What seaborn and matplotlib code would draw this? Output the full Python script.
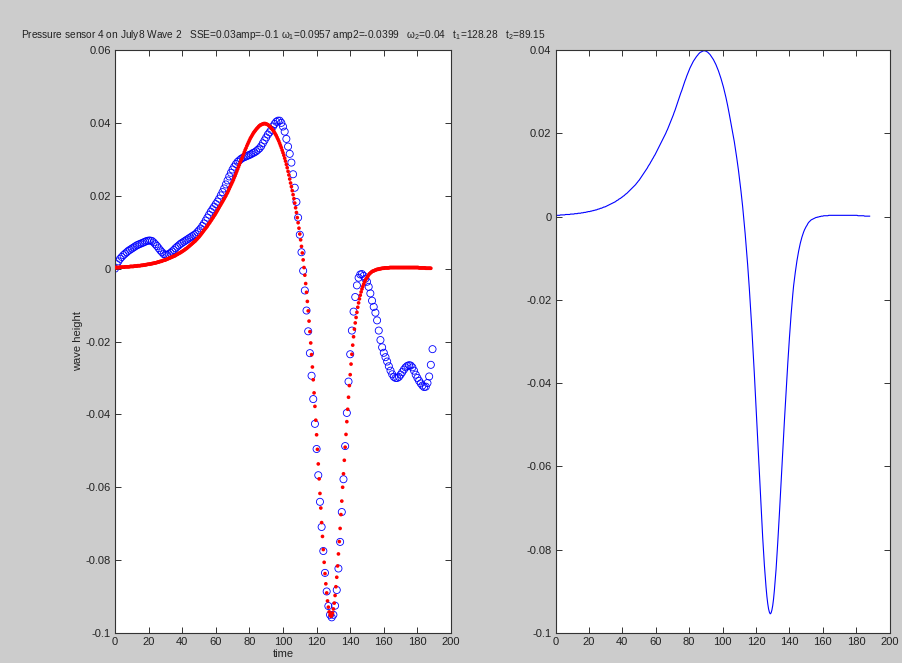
import numpy as np
import matplotlib
matplotlib.use("Agg")
import matplotlib.pyplot as plt
import seaborn as sns
from matplotlib.ticker import FuncFormatter, FixedLocator

plt.rcParams['font.family'] = ['Liberation Sans', 'DejaVu Sans']
plt.rcParams['mathtext.fontset'] = 'custom'
plt.rcParams['mathtext.rm'] = 'Liberation Sans'
plt.rcParams['mathtext.it'] = 'Liberation Sans'

# Measured surface elevation, one sample per time step (t = 0 ... 189)
measured_wave = [
    0.0000, 0.0012, 0.0020, 0.0027, 0.0032, 0.0037, 0.0041, 0.0045, 0.0049, 0.0052,
    0.0055, 0.0058, 0.0061, 0.0064, 0.0066, 0.0068, 0.0070, 0.0072, 0.0074, 0.0076,
    0.0077, 0.0077, 0.0076, 0.0072, 0.0067, 0.0062, 0.0056, 0.0050, 0.0045, 0.0040,
    0.0038, 0.0038, 0.0040, 0.0043, 0.0047, 0.0051, 0.0056, 0.0060, 0.0064, 0.0068,
    0.0071, 0.0074, 0.0077, 0.0080, 0.0083, 0.0086, 0.0089, 0.0092, 0.0095, 0.0100,
    0.0105, 0.0110, 0.0117, 0.0124, 0.0132, 0.0140, 0.0148, 0.0156, 0.0163, 0.0170,
    0.0177, 0.0184, 0.0192, 0.0201, 0.0210, 0.0220, 0.0231, 0.0242, 0.0253, 0.0263,
    0.0272, 0.0280, 0.0287, 0.0293, 0.0297, 0.0301, 0.0304, 0.0306, 0.0308, 0.0310,
    0.0312, 0.0314, 0.0317, 0.0319, 0.0322, 0.0326, 0.0330, 0.0336, 0.0344, 0.0352,
    0.0360, 0.0368, 0.0374, 0.0381, 0.0390, 0.0397, 0.0403, 0.0406, 0.0406, 0.0400,
    0.0390, 0.0376, 0.0356, 0.0335, 0.0315, 0.0291, 0.0259, 0.0222, 0.0183, 0.0140,
    0.0093, 0.0045, -0.0006, -0.0060, -0.0115, -0.0172, -0.0232, -0.0294, -0.0358, -0.0426,
    -0.0495, -0.0567, -0.0640, -0.0709, -0.0775, -0.0835, -0.0886, -0.0926, -0.0950, -0.0957,
    -0.0950, -0.0925, -0.0882, -0.0823, -0.0750, -0.0668, -0.0578, -0.0487, -0.0396, -0.0310,
    -0.0235, -0.0170, -0.0118, -0.0078, -0.0046, -0.0025, -0.0016, -0.0015, -0.0020, -0.0028,
    -0.0036, -0.0050, -0.0068, -0.0088, -0.0105, -0.0121, -0.0142, -0.0170, -0.0196, -0.0216,
    -0.0231, -0.0243, -0.0255, -0.0268, -0.0280, -0.0290, -0.0297, -0.0300, -0.0300, -0.0297,
    -0.0291, -0.0284, -0.0277, -0.0271, -0.0267, -0.0265, -0.0266, -0.0271, -0.0280, -0.0291,
    -0.0300, -0.0308, -0.0315, -0.0321, -0.0325, -0.0324, -0.0314, -0.0296, -0.0264, -0.0221,
]
measured_time = np.arange(len(measured_wave))

# Two-soliton fit, evaluated every half time step (t = 0 ... 188)
fit_wave = [
    0.0003, 0.0003, 0.0003, 0.0003, 0.0003, 0.0003, 0.0004, 0.0004, 0.0004, 0.0004,
    0.0004, 0.0004, 0.0005, 0.0005, 0.0005, 0.0005, 0.0005, 0.0005, 0.0006, 0.0006,
    0.0006, 0.0006, 0.0006, 0.0007, 0.0007, 0.0007, 0.0007, 0.0008, 0.0008, 0.0008,
    0.0008, 0.0009, 0.0009, 0.0009, 0.0010, 0.0010, 0.0010, 0.0011, 0.0011, 0.0012,
    0.0012, 0.0012, 0.0013, 0.0013, 0.0014, 0.0014, 0.0015, 0.0015, 0.0016, 0.0016,
    0.0017, 0.0018, 0.0018, 0.0019, 0.0020, 0.0020, 0.0021, 0.0022, 0.0023, 0.0023,
    0.0024, 0.0025, 0.0026, 0.0027, 0.0028, 0.0029, 0.0030, 0.0031, 0.0032, 0.0033,
    0.0034, 0.0035, 0.0036, 0.0038, 0.0039, 0.0040, 0.0042, 0.0043, 0.0044, 0.0046,
    0.0047, 0.0049, 0.0050, 0.0052, 0.0054, 0.0055, 0.0057, 0.0059, 0.0061, 0.0063,
    0.0065, 0.0067, 0.0069, 0.0071, 0.0073, 0.0075, 0.0077, 0.0080, 0.0082, 0.0085,
    0.0087, 0.0090, 0.0093, 0.0096, 0.0099, 0.0102, 0.0105, 0.0108, 0.0111, 0.0114,
    0.0117, 0.0121, 0.0124, 0.0127, 0.0131, 0.0134, 0.0138, 0.0141, 0.0145, 0.0148,
    0.0152, 0.0156, 0.0160, 0.0164, 0.0168, 0.0172, 0.0176, 0.0180, 0.0184, 0.0188,
    0.0192, 0.0196, 0.0200, 0.0205, 0.0209, 0.0214, 0.0219, 0.0224, 0.0229, 0.0234,
    0.0239, 0.0244, 0.0250, 0.0255, 0.0261, 0.0267, 0.0273, 0.0279, 0.0285, 0.0291,
    0.0297, 0.0302, 0.0308, 0.0314, 0.0320, 0.0326, 0.0331, 0.0337, 0.0342, 0.0347,
    0.0352, 0.0357, 0.0361, 0.0365, 0.0369, 0.0373, 0.0376, 0.0379, 0.0382, 0.0385,
    0.0387, 0.0390, 0.0392, 0.0394, 0.0395, 0.0396, 0.0397, 0.0398, 0.0398, 0.0398,
    0.0397, 0.0396, 0.0395, 0.0393, 0.0391, 0.0389, 0.0386, 0.0383, 0.0380, 0.0377,
    0.0373, 0.0369, 0.0365, 0.0360, 0.0355, 0.0350, 0.0344, 0.0338, 0.0332, 0.0325,
    0.0318, 0.0311, 0.0303, 0.0295, 0.0286, 0.0277, 0.0267, 0.0257, 0.0246, 0.0235,
    0.0225, 0.0214, 0.0203, 0.0192, 0.0180, 0.0167, 0.0154, 0.0140, 0.0126, 0.0111,
    0.0095, 0.0079, 0.0061, 0.0043, 0.0024, 0.0003, -0.0018, -0.0041, -0.0065, -0.0090,
    -0.0116, -0.0144, -0.0173, -0.0204, -0.0236, -0.0270, -0.0305, -0.0341, -0.0378, -0.0416,
    -0.0456, -0.0496, -0.0536, -0.0577, -0.0617, -0.0657, -0.0697, -0.0735, -0.0771, -0.0806,
    -0.0837, -0.0865, -0.0890, -0.0912, -0.0929, -0.0942, -0.0950, -0.0954, -0.0952, -0.0945,
    -0.0934, -0.0918, -0.0897, -0.0873, -0.0847, -0.0816, -0.0783, -0.0749, -0.0713, -0.0675,
    -0.0638, -0.0600, -0.0563, -0.0526, -0.0490, -0.0455, -0.0420, -0.0386, -0.0353, -0.0321,
    -0.0291, -0.0262, -0.0235, -0.0210, -0.0187, -0.0166, -0.0149, -0.0134, -0.0120, -0.0106,
    -0.0094, -0.0083, -0.0073, -0.0064, -0.0056, -0.0049, -0.0043, -0.0037, -0.0032, -0.0028,
    -0.0024, -0.0021, -0.0017, -0.0014, -0.0012, -0.0010, -0.0008, -0.0007, -0.0006, -0.0005,
    -0.0004, -0.0003, -0.0002, -0.0002, -0.0001, -0.0001, 0.0000, 0.0000, 0.0001, 0.0001,
    0.0001, 0.0002, 0.0002, 0.0002, 0.0002, 0.0002, 0.0002, 0.0003, 0.0003, 0.0003,
    0.0003, 0.0003, 0.0003, 0.0003, 0.0003, 0.0003, 0.0003, 0.0003, 0.0003, 0.0003,
    0.0003, 0.0003, 0.0003, 0.0003, 0.0003, 0.0003, 0.0003, 0.0003, 0.0003, 0.0003,
    0.0003, 0.0003, 0.0003, 0.0003, 0.0003, 0.0003, 0.0003, 0.0003, 0.0003, 0.0003,
    0.0003, 0.0003, 0.0002, 0.0002, 0.0002, 0.0002, 0.0002, 0.0002, 0.0002, 0.0002,
    0.0001, 0.0001, 0.0001, 0.0001, 0.0001, 0.0001, 0.0001,
]
fit_time = np.arange(len(fit_wave)) * 0.5

x_ticks = [0, 20, 40, 60, 80, 100, 120, 140, 160, 180, 200]
left_y_ticks = [-0.1, -0.08, -0.06, -0.04, -0.02, 0, 0.02, 0.04, 0.06]
right_y_ticks = [-0.1, -0.08, -0.06, -0.04, -0.02, 0, 0.02, 0.04]

title_text = ("Pressure sensor 4 on July8 Wave 2   SSE=0.03amp=-0.1 $\\omega_1$=0.0957 "
              "amp2=-0.0399   $\\omega_2$=0.04   t$_1$=128.28   t$_2$=89.15")

W, H = 902, 663
fig = plt.figure(figsize=(W / 100, H / 100), dpi=100, facecolor='#cccccc')
ax1 = fig.add_axes([115 / W, 30 / H, 336 / W, 583 / H])
ax2 = fig.add_axes([555.5 / W, 30 / H, 334.2 / W, 583 / H])

# Left: measured record with the fitted curve on top
sns.scatterplot(x=measured_time, y=measured_wave, ax=ax1, marker='o', s=26,
                facecolor='none', edgecolor='#0000ff', linewidth=0.6, zorder=2)
sns.scatterplot(x=fit_time, y=fit_wave, ax=ax1, marker='o', s=7,
                color='#ff0000', edgecolor='none', linewidth=0, zorder=3)

# Right: the fitted curve alone
sns.lineplot(x=fit_time, y=fit_wave, ax=ax2, color='#0000ff', linewidth=0.8)

fmt = FuncFormatter(lambda v, p: '%g' % round(v, 4))
for ax, yt in ((ax1, left_y_ticks), (ax2, right_y_ticks)):
    ax.set_facecolor('white')
    ax.set_xlim(0, 200)
    ax.set_ylim(yt[0], yt[-1])
    ax.xaxis.set_major_locator(FixedLocator(x_ticks))
    ax.yaxis.set_major_locator(FixedLocator(yt))
    ax.xaxis.set_major_formatter(fmt)
    ax.yaxis.set_major_formatter(fmt)
    ax.tick_params(direction='in', top=True, right=True, length=4, width=0.7,
                   color='#333333', labelcolor='#222222', labelsize=8, pad=3)
    for sp in ax.spines.values():
        sp.set_color('#333333')
        sp.set_linewidth(0.8)
    ax.set_xlabel('')
    ax.set_ylabel('')

ax1.set_xlabel('time', fontsize=8, color='#222222', labelpad=1)
ax1.set_ylabel('wave height', fontsize=8, color='#222222', labelpad=2)
ax1.set_title(title_text, fontsize=7.3, color='#222222', pad=9)

fig.savefig('out.png', dpi=100, facecolor=fig.get_facecolor())
